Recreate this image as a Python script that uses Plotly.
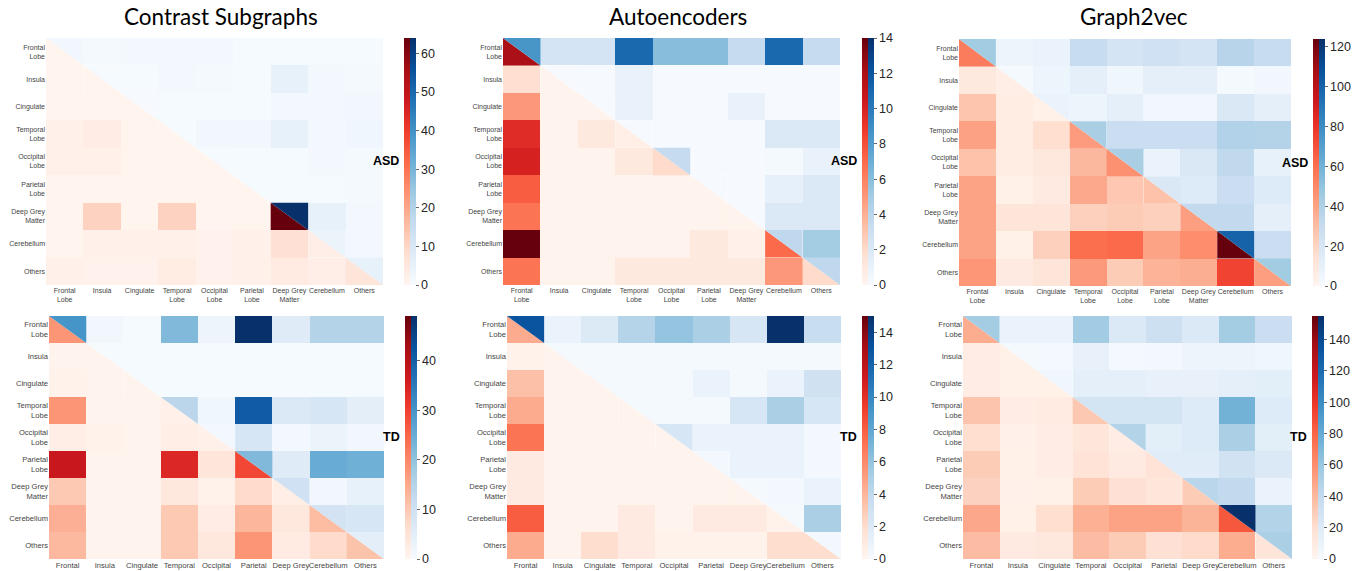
import plotly.graph_objects as go
import plotly.colors as pc
from plotly.colors import sample_colorscale, make_colorscale

Reds = pc.sequential.Reds
Blues = pc.sequential.Blues

# ---------------- data ----------------
regions = ["Frontal<br>Lobe", "Insula", "Cingulate", "Temporal<br>Lobe", "Occipital<br>Lobe",
           "Parietal<br>Lobe", "Deep Grey<br>Matter", "Cerebellum", "Others"]
# bottom row only shows the first line of each label (figure is cropped there)
regions_short = ["Frontal", "Insula", "Cingulate", "Temporal", "Occipital",
                 "Parietal", "Deep Grey", "Cerebellum", "Others"]
methods = ["Contrast Subgraphs", "Autoencoders", "Graph2vec"]
groups = ["ASD", "TD"]

# red = lower triangle incl. diagonal (row i -> cols 0..i)
# blue = upper triangle incl. diagonal (row i -> cols i..8)
cs_asd_red = [[0.5], [0.5, 0.5], [0.5, 0.5, 0.5], [2, 3, 0.5, 0.5], [1.5, 1.5, 0.5, 0.5, 0.5],
              [0.5, 0.5, 0.5, 0.5, 0.5, 0.5], [0.5, 11, 0.5, 11, 0.5, 0.5, 64],
              [0.5, 1.5, 2, 2, 1, 1.5, 7.5, 2.5], [2, 1, 1, 3.5, 1, 1.5, 4, 2.5, 6]]
cs_asd_blue = [[2, 1, 1.5, 1.5, 1.5, 0.5, 0.5, 0.5, 0.5], [0.5, 0.5, 1.5, 1, 0.5, 5, 1.5, 1],
               [0.3, 0.5, 0.5, 0.5, 1.5, 1.5, 2], [0.5, 2, 2, 5, 1.5, 2.5], [0.5, 0.5, 0.5, 1.5, 1],
               [0.5, 0.5, 0.5, 1], [64, 5, 1.5], [4, 1.5], [5]]
cs_td_red = [[18], [0.5, 0.5], [1, 0.5, 0.5], [18, 0.5, 0.5, 1.5], [2, 1, 0.5, 2, 1.5],
             [37, 0.5, 0.5, 34, 4.5, 29], [10, 0.5, 0.5, 4, 1, 7, 2],
             [14, 0.5, 0.5, 10, 2.5, 13, 4, 12], [12.5, 0.5, 0.5, 10, 4, 18, 3, 7, 11]]
cs_td_blue = [[30, 1.5, 0.5, 22, 2.5, 49, 6, 15, 15], [0.5] * 8, [0.5] * 7,
              [14, 2, 41, 7, 8, 5], [1, 8, 1, 3, 1.5], [22, 6, 25, 24], [10, 1.5, 4], [9, 8], [5]]
ae_asd_red = [[12], [1.8, 0.2], [5, 0.2, 0.2], [9.5, 0.2, 1, 0.5], [10, 0.2, 0.2, 1, 2],
              [7.5, 0.2, 0.2, 0.2, 0.2, 0.2], [6.5, 0.2, 0.2, 0.2, 0.2, 0.2, 0.2],
              [14, 0.2, 0.2, 0.2, 0.2, 1, 0.4, 7], [6.5, 0.2, 0.2, 1, 1, 1, 1, 5, 2]]
ae_asd_blue = [[8.5, 2.5, 2.5, 11, 6, 6, 3.5, 11, 3.5], [0.1, 0.1, 1, 0.1, 0.1, 0.1, 0.1, 0.1],
               [0.1, 1, 0.1, 0.1, 1, 0.1, 0.1], [0.1, 0.1, 0.1, 0.1, 2, 2], [3.5, 0.1, 0.1, 0.2, 1],
               [0.1, 0.1, 1.2, 2], [0.1, 2, 2], [3.8, 5], [3.8]]
ae_td_red = [[4.5], [0.3, 0.2], [3.5, 0.2, 0.2], [4.5, 0.2, 0.2, 0.2], [7, 0.2, 0.2, 0.2, 0.2],
             [1, 0.2, 0.2, 0.2, 0.2, 0.2], [1, 0.2, 0.2, 0.2, 0.2, 0.2, 0.2],
             [8, 0.2, 0.2, 1, 0.2, 1, 1, 0.3], [4.5, 0.2, 2, 1, 0.3, 0.3, 0.3, 2, 2]]
ae_td_blue = [[13, 1, 2, 4.5, 6, 5, 2.5, 15, 3.5], [0.2] * 8, [0.2, 0.2, 0.2, 1, 0.2, 1, 3],
              [0.2, 0.2, 0.2, 2.5, 5, 2.5], [2.5, 1, 1, 1, 0.3], [0.3, 1, 1, 0.3], [0.2, 0.3, 1],
              [0.2, 5], [0.3]]
g2v_asd_red = [[55], [9, 5], [27, 6, 4], [41, 6, 16, 43], [28, 6, 10, 32, 47],
               [40, 4, 8, 38, 26, 28], [40, 12, 12, 22, 24, 22, 42],
               [40, 4, 22, 60, 62, 40, 48, 124], [45, 8, 12, 44, 24, 34, 36, 75, 42]]
g2v_asd_blue = [[45, 6, 8, 30, 22, 25, 22, 37, 30], [2, 6, 12, 5, 12, 12, 2, 4],
                [8, 6, 12, 4, 4, 18, 12], [42, 28, 28, 28, 39, 38], [42, 8, 18, 33, 10],
                [18, 16, 28, 16], [32, 32, 12], [100, 28], [45]]
g2v_td_red = [[46], [8, 5], [8, 5, 5], [34, 7, 9, 32], [20, 4, 7, 14, 7], [30, 5, 8, 17, 10, 17],
              [27, 4, 5, 30, 18, 14, 30], [48, 5, 20, 44, 50, 50, 42, 85],
              [38, 10, 12, 38, 30, 18, 22, 46, 15]]
g2v_td_blue = [[55, 10, 10, 56, 22, 33, 22, 55, 35], [2, 3, 12, 3, 4, 8, 8, 6],
               [6, 14, 14, 12, 12, 15, 16], [28, 28, 28, 20, 75, 20], [48, 16, 20, 52, 16],
               [18, 18, 30, 22], [45, 40, 10], [155, 48], [52]]

color_max = {("cs", "ASD"): 64, ("cs", "TD"): 49, ("ae", "ASD"): 14, ("ae", "TD"): 15,
             ("g2v", "ASD"): 124, ("g2v", "TD"): 155}
color_dtick = {"cs": 10, "ae": 2, "g2v": 20}

# ---------------- layout geometry (screen pixels) ----------------
W, H = 1365, 571
panel_px = {
    (0, 0): (46, 383, 38, 285, 404), (0, 1): (503, 840, 38, 285, 862), (0, 2): (959, 1291, 39, 286, 1313),
    (1, 0): (49, 384, 316, 559, 405), (1, 1): (507, 841, 316, 559, 862), (1, 2): (963, 1292, 316, 559, 1312),
}
title_x = [221, 678, 1134]
title_y = 17


def px_x(p):
    return p / W


def px_y(p):
    return 1 - p / H


reds_cs = make_colorscale(list(Reds))
blues_cs = make_colorscale(list(Blues))

data = {
    ("cs", "ASD"): (cs_asd_red, cs_asd_blue), ("cs", "TD"): (cs_td_red, cs_td_blue),
    ("ae", "ASD"): (ae_asd_red, ae_asd_blue), ("ae", "TD"): (ae_td_red, ae_td_blue),
    ("g2v", "ASD"): (g2v_asd_red, g2v_asd_blue), ("g2v", "TD"): (g2v_td_red, g2v_td_blue),
}
keys = ["cs", "ae", "g2v"]

fig = go.Figure()
annotations = []
n = len(regions)
idx = 0
for r, grp in enumerate(groups):
    for c, key in enumerate(keys):
        idx += 1
        x0, x1, y0, y1, cbx = panel_px[(r, c)]
        red, blue = data[(key, grp)]
        zmax = color_max[(key, grp)]
        xa = "x" if idx == 1 else f"x{idx}"
        ya = "y" if idx == 1 else f"y{idx}"
        zr = [[None] * n for _ in range(n)]
        zb = [[None] * n for _ in range(n)]
        for i, row in enumerate(red):
            for j, v in enumerate(row):
                if j < i:
                    zr[i][j] = v
        for i, row in enumerate(blue):
            for k, v in enumerate(row):
                if k > 0:
                    zb[i][i + k] = v
        cb_len = (y1 - y0) / H
        cb_y = (px_y(y0) + px_y(y1)) / 2
        fig.add_trace(go.Heatmap(
            z=zr, x=list(range(n)), y=list(range(n)), xaxis=xa, yaxis=ya,
            colorscale=reds_cs, zmin=0, zmax=zmax, hoverinfo="skip",
            colorbar=dict(x=px_x(cbx), xanchor="left", xpad=0, ypad=0, thickness=6,
                          len=cb_len, lenmode="fraction", y=cb_y, yanchor="middle",
                          outlinewidth=0, showticklabels=False, ticks="")))
        fig.add_trace(go.Heatmap(
            z=zb, x=list(range(n)), y=list(range(n)), xaxis=xa, yaxis=ya,
            colorscale=blues_cs, zmin=0, zmax=zmax, hoverinfo="skip",
            colorbar=dict(x=px_x(cbx + 6), xanchor="left", xpad=0, ypad=0, thickness=6,
                          len=cb_len, lenmode="fraction", y=cb_y, yanchor="middle",
                          outlinewidth=0, ticks="outside", ticklen=3, tickwidth=1,
                          tickcolor="#666", tick0=0, dtick=color_dtick[key],
                          tickfont=dict(family="Liberation Sans, Arial", size=12.5, color="#262626"))))
        # diagonal cells: split into red (lower-left) and blue (upper-right) triangles
        for k in range(n):
            rv = red[k][k]
            bv = blue[k][0]
            rc = sample_colorscale(reds_cs, [min(rv / zmax, 1)])[0]
            bc = sample_colorscale(blues_cs, [min(bv / zmax, 1)])[0]
            fig.add_trace(go.Scatter(
                x=[k - 0.5, k - 0.5, k + 0.5, k - 0.5], y=[k - 0.5, k + 0.5, k + 0.5, k - 0.5],
                xaxis=xa, yaxis=ya, mode="lines", fill="toself", fillcolor=rc,
                line=dict(width=0, color=rc), hoverinfo="skip", showlegend=False))
            fig.add_trace(go.Scatter(
                x=[k - 0.5, k + 0.5, k + 0.5, k - 0.5], y=[k - 0.5, k - 0.5, k + 0.5, k - 0.5],
                xaxis=xa, yaxis=ya, mode="lines", fill="toself", fillcolor=bc,
                line=dict(width=0, color=bc), hoverinfo="skip", showlegend=False))
        fsz = 7 if r == 0 else 7.6
        axfont = dict(family="Liberation Sans, Arial", size=fsz, color="#444")
        fig.update_layout(**{
            ("xaxis" if idx == 1 else f"xaxis{idx}"): dict(
                domain=[px_x(x0), px_x(x1)], anchor=ya, range=[-0.5, n - 0.5],
                tickvals=list(range(n)), ticktext=(regions if r == 0 else regions_short),
                tickangle=0, ticks="", automargin=False,
                showgrid=False, zeroline=False, showline=False, tickfont=axfont, fixedrange=True),
            ("yaxis" if idx == 1 else f"yaxis{idx}"): dict(
                domain=[px_y(y1), px_y(y0)], anchor=xa, range=[n - 0.5, -0.5],
                tickvals=list(range(n)), ticktext=regions, ticks="", automargin=False,
                showgrid=False, zeroline=False, showline=False, tickfont=axfont, fixedrange=True),
        })
        annotations.append(dict(
            x=px_x(cbx - 3), y=cb_y, xref="paper", yref="paper", xanchor="right", yanchor="middle",
            text=f"<b>{grp}</b>", showarrow=False,
            font=dict(family="Liberation Sans, Arial", size=12.5, color="black")))

for c, m in enumerate(methods):
    annotations.append(dict(
        x=px_x(title_x[c]), y=px_y(title_y), xref="paper", yref="paper",
        xanchor="center", yanchor="middle",
        text=m, showarrow=False, font=dict(family="Lato", size=22.5, color="black")))

fig.update_layout(
    width=W, height=H, margin=dict(l=0, r=0, t=0, b=0, pad=0, autoexpand=False),
    paper_bgcolor="white", plot_bgcolor="white", showlegend=False,
    annotations=annotations,
)
# remove the page's default 8px body margin so the figure fills the window exactly
fig.write_html("out.html", config={"displayModeBar": False},
               post_script="document.body.style.margin='0';")
